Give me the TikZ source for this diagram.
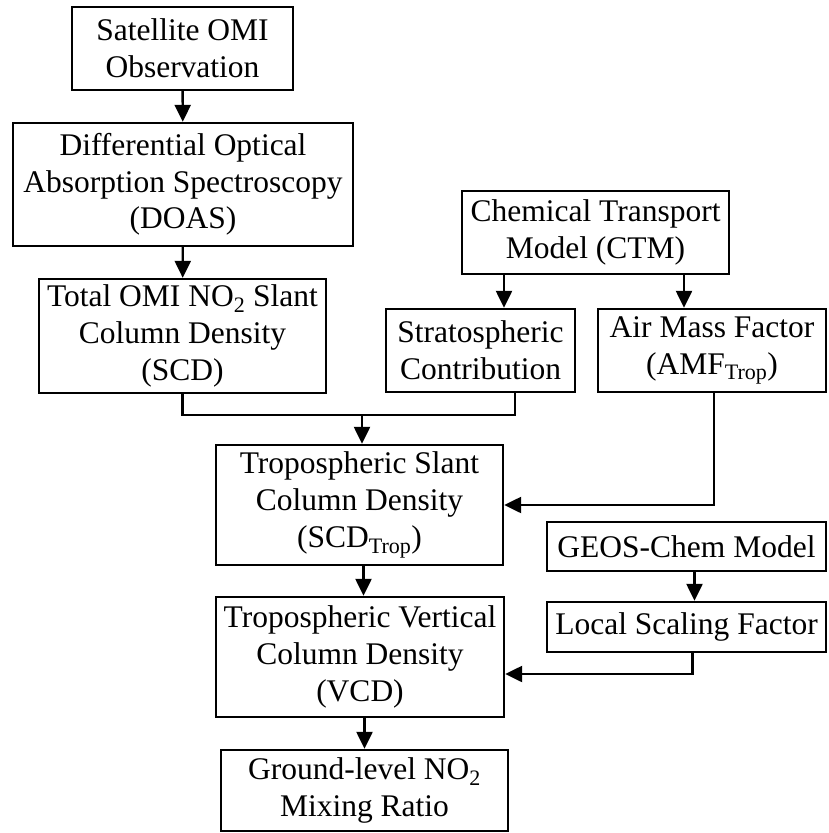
\documentclass[tikz,border=0pt]{standalone}
\usepackage{fontspec}
\setmainfont{Liberation Serif}
\usetikzlibrary{arrows.meta}
\newcommand{\boxfont}{\fontsize{31.5}{36.7}\selectfont}
\tikzset{
  box/.style={draw,line width=2.4pt,align=center,inner sep=0pt,font=\boxfont},
  arr/.style={-{Triangle[length=17pt,width=16pt]},line width=2.4pt},
  link/.style={line width=2.4pt}
}

\begin{document}
\begin{tikzpicture}[x=1pt,y=-1pt]
\useasboundingbox (0,0) rectangle (828,833);
%% retrieval chain
\node[box,minimum width=221pt,minimum height=83pt] (sat) at (182.5,48.5) {Satellite OMI\\Observation};
\node[box,minimum width=340pt,minimum height=123pt] (doas) at (183,184.5) {Differential Optical\\Absorption Spectroscopy\\(DOAS)};
\node[box,minimum width=287pt,minimum height=114pt] (scd) at (182.5,336) {Total OMI NO\textsubscript{2} Slant\\Column Density\\(SCD)};
%% model side
\node[box,minimum width=267pt,minimum height=83pt] (ctm) at (595.5,232.5) {Chemical Transport\\Model (CTM)};
\node[box,minimum width=189pt,minimum height=83pt] (strat) at (480.5,350.5) {Stratospheric\\Contribution};
\node[box,minimum width=228pt,minimum height=83pt] (amf) at (712,350.5) {Air Mass Factor\\(AMF\textsubscript{Trop})};
%% tropospheric columns
\node[box,minimum width=287pt,minimum height=120pt] (slant) at (359.5,505) {Tropospheric Slant\\Column Density\\(SCD\textsubscript{Trop})};
\node[box,minimum width=288pt,minimum height=120pt] (vcd) at (360,657) {Tropospheric Vertical\\Column Density\\(VCD)};
\node[box,minimum width=287pt,minimum height=81pt] (ground) at (364.5,790.5) {Ground-level NO\textsubscript{2}\\Mixing Ratio};
\node[box,minimum width=279pt,minimum height=49pt] (geos) at (686.5,546.5) {GEOS-Chem Model};
\node[box,minimum width=279pt,minimum height=50pt] (local) at (686.5,627) {Local Scaling Factor};
%% connectors
\coordinate (join) at (362,415);
\draw[arr] (sat) -- (doas);
\draw[arr] (doas) -- (scd);
\draw[link] (scd.south) |- (join) -| ([xshift=34.5pt]strat.south);
\draw[arr] (join) -- (join |- slant.north);
\draw[arr] ([xshift=-91.5pt]ctm.south) -- ([xshift=-91.5pt]ctm.south |- strat.north);
\draw[arr] ([xshift=88.5pt]ctm.south) -- ([xshift=88.5pt]ctm.south |- amf.north);
\draw[arr] ([xshift=2pt]amf.south) |- (slant.east);
\draw[arr] ([xshift=4pt]slant.south) -- ([xshift=4pt]slant.south |- vcd.north);
\draw[arr] ([xshift=8pt]geos.south) -- ([xshift=8pt]geos.south |- local.north);
\draw[arr] ([xshift=6pt]local.south) |- ([yshift=-17pt]vcd.east);
\draw[arr] (vcd.south -| ground.north) -- (ground.north);
\end{tikzpicture}
\end{document}
